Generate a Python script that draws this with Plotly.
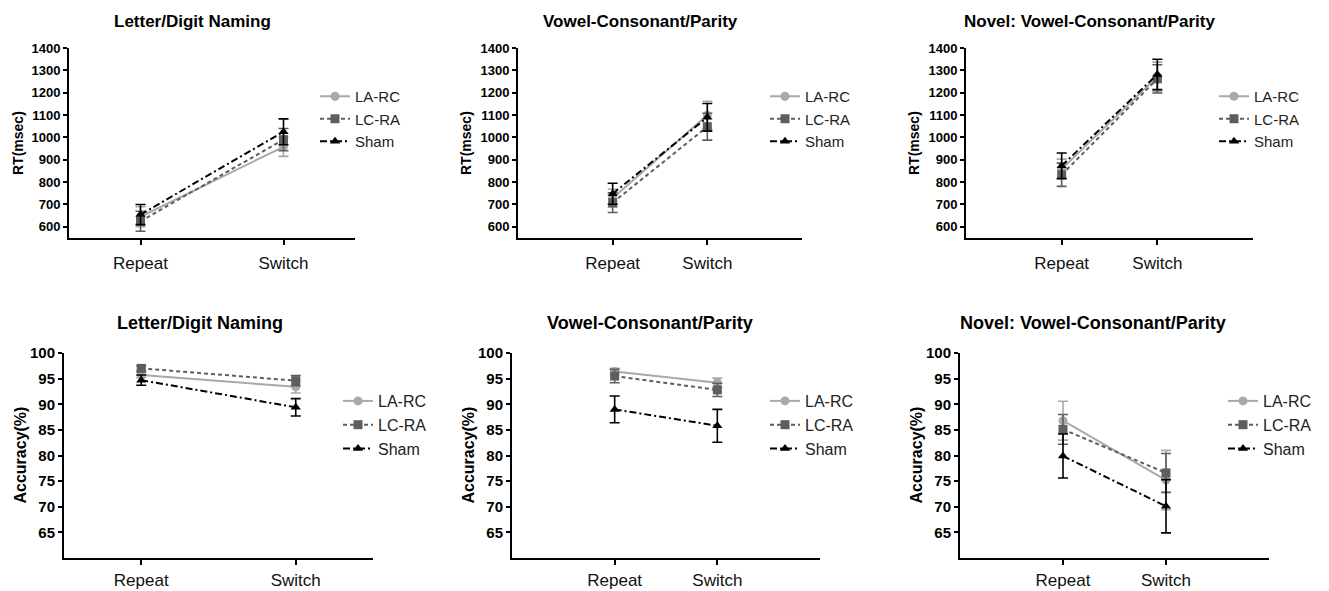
import plotly.graph_objects as go

# ---------------- data ----------------
conditions = ["Repeat", "Switch"]
groups = ["LA-RC", "LC-RA", "Sham"]

titles = ["Letter/Digit Naming", "Vowel-Consonant/Parity", "Novel: Vowel-Consonant/Parity"]

# RT (msec)
rt_letter_mean = {"LA-RC": [645, 958], "LC-RA": [625, 990], "Sham": [655, 1025]}
rt_letter_err = {"LA-RC": [45, 43], "LC-RA": [45, 50], "Sham": [45, 58]}
rt_vc_mean = {"LA-RC": [728, 1100], "LC-RA": [708, 1048], "Sham": [748, 1090]}
rt_vc_err = {"LA-RC": [40, 62], "LC-RA": [44, 60], "Sham": [47, 62]}
rt_novel_mean = {"LA-RC": [858, 1272], "LC-RA": [833, 1262], "Sham": [873, 1282]}
rt_novel_err = {"LA-RC": [45, 65], "LC-RA": [52, 63], "Sham": [57, 68]}

# Accuracy (%)
acc_letter_mean = {"LA-RC": [95.7, 93.4], "LC-RA": [97.0, 94.6], "Sham": [94.7, 89.4]}
acc_letter_err = {"LA-RC": [0.5, 1.2], "LC-RA": [0.5, 1.0], "Sham": [1.0, 1.7]}
acc_vc_mean = {"LA-RC": [96.4, 94.2], "LC-RA": [95.5, 92.8], "Sham": [89.0, 85.8]}
acc_vc_err = {"LA-RC": [0.6, 0.9], "LC-RA": [1.3, 1.3], "Sham": [2.6, 3.2]}
acc_novel_mean = {"LA-RC": [86.8, 75.2], "LC-RA": [85.1, 76.6], "Sham": [79.9, 70.1]}
acc_novel_err = {"LA-RC": [3.8, 5.8], "LC-RA": [2.9, 3.8], "Sham": [4.3, 5.2]}

rt_ticks = [600, 700, 800, 900, 1000, 1100, 1200, 1300, 1400]
acc_ticks = [65, 70, 75, 80, 85, 90, 95, 100]

# ---------------- styling / geometry ----------------
PAGE_W, PAGE_H = 1329, 591
BODY = 8                      # default body margin of the html page
W, H = PAGE_W - BODY, PAGE_H - BODY
FONT = "Arial, Liberation Sans, Helvetica, sans-serif"


def fx(px):
    return (px - BODY) / W


def fy(py):
    return 1 - (py - BODY) / H


style = {
    "LA-RC": dict(color="#a9a9a9", dash="solid", symbol="circle", size=9),
    "LC-RA": dict(color="#5e5e5e", dash="4px,3px", symbol="square", size=9),
    "Sham": dict(color="#000000", dash="7px,3px,2px,3px", symbol="triangle-up", size=9),
}

top = dict(py=(48, 238), yr=[550, 1400], ticks=rt_ticks, ytitle="RT(msec)", tcy=22,
           tickfs=13, titlefs=17, ytfs=14, xfs=17, legfs=15, legtop=80, xstand=4)
bot = dict(py=(353, 558), yr=[60, 100], ticks=acc_ticks, ytitle="Accuracy(%)", tcy=323,
           tickfs=15, titlefs=18, ytfs=16, xfs=17, legfs=16, legtop=384, xstand=1)

panels = [
    dict(top, px=(69, 355), xr=[-0.5, 1.5], mean=rt_letter_mean, err=rt_letter_err,
         title=titles[0], tcx=193, ytx=18, legx=315),
    dict(top, px=(518, 802), xr=[-1, 2], mean=rt_vc_mean, err=rt_vc_err,
         title=titles[1], tcx=640, ytx=466, legx=765),
    dict(top, px=(966, 1253), xr=[-1, 2], mean=rt_novel_mean, err=rt_novel_err,
         title=titles[2], tcx=1089, ytx=914, legx=1214),
    dict(bot, px=(64, 373), xr=[-0.5, 1.5], mean=acc_letter_mean, err=acc_letter_err,
         title=titles[0], tcx=200, ytx=20, legx=338),
    dict(bot, px=(512, 820), xr=[-1, 2], mean=acc_vc_mean, err=acc_vc_err,
         title=titles[1], tcx=650, ytx=468, legx=765),
    dict(bot, px=(960, 1269), xr=[-1, 2], mean=acc_novel_mean, err=acc_novel_err,
         title=titles[2], tcx=1093, ytx=916, legx=1223),
]

fig = go.Figure()
xpos = list(range(len(conditions)))

for i, p in enumerate(panels):
    k = "" if i == 0 else str(i + 1)
    xa, ya = "x" + k, "y" + k
    leg = "legend" + k
    for g in groups:
        s = style[g]
        fig.add_trace(go.Scatter(
            x=xpos, y=p["mean"][g], name=g, xaxis=xa, yaxis=ya, legend=leg,
            mode="lines+markers",
            line=dict(color=s["color"], dash=s["dash"], width=2),
            marker=dict(symbol=s["symbol"], size=s["size"], color=s["color"]),
            error_y=dict(type="data", array=p["err"][g], visible=True,
                         color=s["color"], thickness=1.6, width=5),
            cliponaxis=False,
        ))
    x0, x1 = p["px"]
    yt, yb = p["py"]
    fig.layout["xaxis" + k] = dict(
        domain=[fx(x0), fx(x1)], range=p["xr"], anchor=ya,
        tickvals=xpos, ticktext=conditions,
        tickfont=dict(family=FONT, size=p["xfs"], color="#111"),
        showline=True, linecolor="black", linewidth=2, ticks="outside",
        tickwidth=2, ticklen=5, tickcolor="black", showgrid=False, zeroline=False,
        automargin=False, ticklabelstandoff=p["xstand"], fixedrange=True)
    fig.layout["yaxis" + k] = dict(
        domain=[fy(yb), fy(yt)], range=p["yr"], anchor=xa,
        tickvals=p["ticks"],
        tickfont=dict(family=FONT, size=p["tickfs"], color="black", weight="bold"),
        showline=True, linecolor="black", linewidth=2, ticks="outside",
        tickwidth=2, ticklen=4, tickcolor="black", showgrid=False, zeroline=False,
        automargin=False, fixedrange=True)
    fig.layout[leg] = dict(
        x=fx(p["legx"]), y=fy(p["legtop"]), xanchor="left", yanchor="top",
        font=dict(family=FONT, size=p["legfs"], color="#222"), bgcolor="rgba(0,0,0,0)",
        itemwidth=30, tracegroupgap=0, borderwidth=0)
    # panel title
    fig.add_annotation(
        x=fx(p["tcx"]), y=fy(p["tcy"]), xref="paper", yref="paper",
        text="<b>" + p["title"] + "</b>", showarrow=False,
        font=dict(family=FONT, size=p["titlefs"], color="black"),
        xanchor="center", yanchor="middle")
    # y-axis title
    fig.add_annotation(
        x=fx(p["ytx"]), y=fy((yt + yb) / 2), xref="paper", yref="paper",
        text="<b>" + p["ytitle"] + "</b>", showarrow=False, textangle=-90,
        font=dict(family=FONT, size=p["ytfs"], color="black"),
        xanchor="center", yanchor="middle")

fig.update_layout(
    template="none",
    width=W, height=H, margin=dict(l=0, r=0, t=0, b=0, autoexpand=False),
    paper_bgcolor="white", plot_bgcolor="white", showlegend=True,
    font=dict(family=FONT),
)

fig.write_html("out.html")
